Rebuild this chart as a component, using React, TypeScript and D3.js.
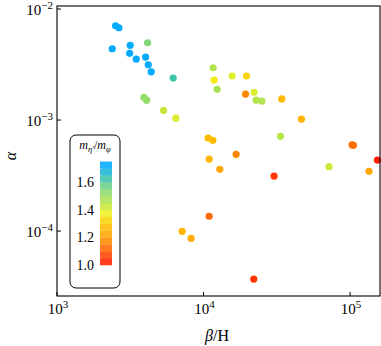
import React, { useEffect, useRef } from 'react';
import * as d3 from 'd3';

// beta/H, alpha and mass ratio for each benchmark point
const betaH = [
  2512, 2646, 2382, 3160, 3130, 3471, 4024, 4193, 4393,
  4150, 3918, 4088, 6206, 5338, 6476,
  11627, 11813, 12378, 15667, 19640, 19336, 22130, 22830, 24970, 34180,
  10750, 11570, 10920, 12910, 16680, 33490, 46560,
  105300, 103200, 153600, 71800, 134600, 30290, 10920, 7150, 8232, 22020,
];
const alpha = [
  7.07e-3, 6.78e-3, 4.39e-3, 4.71e-3, 3.99e-3, 3.54e-3, 3.69e-3, 3.15e-3, 2.72e-3,
  4.97e-3, 1.6e-3, 1.51e-3, 2.39e-3, 1.22e-3, 1.04e-3,
  2.96e-3, 2.29e-3, 1.89e-3, 2.49e-3, 2.49e-3, 1.71e-3, 1.78e-3, 1.51e-3, 1.48e-3, 1.55e-3,
  6.88e-4, 6.56e-4, 4.45e-4, 3.6e-4, 4.91e-4, 7.13e-4, 1.02e-3,
  5.92e-4, 5.98e-4, 4.36e-4, 3.8e-4, 3.45e-4, 3.13e-4, 1.36e-4, 9.94e-5, 8.6e-5, 3.69e-5,
];
const ratio = [
  1.72, 1.72, 1.72, 1.72, 1.72, 1.72, 1.72, 1.72, 1.72,
  1.55, 1.52, 1.52, 1.62, 1.43, 1.4,
  1.46, 1.36, 1.48, 1.39, 1.32, 1.17, 1.4, 1.46, 1.46, 1.27,
  1.27, 1.27, 1.26, 1.23, 1.17, 1.45, 1.25,
  1.12, 1.13, 1.02, 1.42, 1.23, 1.05, 1.12, 1.26, 1.24, 1.05,
];

const xTicks = [3, 4, 5];
const yTicks = [-2, -3, -4];
const cbarTicks = [1.0, 1.2, 1.4, 1.6];

// colormap stops
const cmapStops = [1.0, 1.1, 1.2, 1.3, 1.37, 1.45, 1.55, 1.62, 1.72];
const cmapColors = ['#ff1000', '#ff5a00', '#ff9900', '#ffc800', '#f2f020', '#b8e448', '#82d878', '#40c4a8', '#00aaff'];

const W = 381;
const H = 346;

const App = () => {
  const svgRef = useRef<SVGSVGElement>(null);

  useEffect(() => {
    const svg = d3.select(svgRef.current);
    svg.selectAll('*').remove();

    const left = 57, right = 380, top = 6, bottom = 296;
    const font = '"Liberation Serif", "DejaVu Serif", serif';

    const x = d3.scaleLog().domain([1e3, 1.6e5]).range([left, right]);
    const y = d3.scaleLog().domain([2.6e-5, 1.065e-2]).range([bottom, top]);
    const color = d3.scaleLinear<string>().domain(cmapStops).range(cmapColors).clamp(true);

    // points
    const pts = betaH.map((b, i) => ({ b, a: alpha[i], r: ratio[i] }));
    svg.append('g')
      .selectAll('circle')
      .data(pts)
      .enter()
      .append('circle')
      .attr('cx', d => x(d.b))
      .attr('cy', d => y(d.a))
      .attr('r', 3.6)
      .attr('fill', d => color(d.r));

    // frame
    svg.append('rect')
      .attr('x', left).attr('y', top)
      .attr('width', right - left).attr('height', bottom - top)
      .attr('fill', 'none').attr('stroke', '#000').attr('stroke-width', 1.1);

    // x ticks
    xTicks.forEach(p => {
      const px = x(Math.pow(10, p));
      svg.append('line')
        .attr('x1', px).attr('x2', px).attr('y1', bottom).attr('y2', bottom - 4)
        .attr('stroke', '#000');
      const t = svg.append('text')
        .attr('x', px + 1).attr('y', 314)
        .attr('text-anchor', 'middle')
        .style('font-family', font).style('font-size', '15px');
      t.append('tspan').text('10');
      t.append('tspan').attr('dy', -6).style('font-size', '11px').text(String(p));
    });

    // y ticks
    yTicks.forEach(p => {
      const py = y(Math.pow(10, p));
      svg.append('line')
        .attr('x1', left).attr('x2', left + 4).attr('y1', py).attr('y2', py)
        .attr('stroke', '#000');
      const t = svg.append('text')
        .attr('x', 53).attr('y', py + 6)
        .attr('text-anchor', 'end')
        .style('font-family', font).style('font-size', '15px');
      t.append('tspan').text('10');
      t.append('tspan').attr('dy', -6).style('font-size', '11px').text('\u2212' + String(-p));
    });

    // axis labels
    const xl = svg.append('text')
      .attr('x', 217).attr('y', 341)
      .attr('text-anchor', 'middle')
      .style('font-family', font).style('font-size', '16px');
    xl.append('tspan').style('font-style', 'italic').text('\u03b2');
    xl.append('tspan').text('/H');

    svg.append('text')
      .attr('transform', 'translate(16,156) rotate(-90)')
      .attr('text-anchor', 'middle')
      .style('font-family', font).style('font-size', '16px').style('font-style', 'italic')
      .text('\u03b1');

    // colorbar legend box
    svg.append('rect')
      .attr('x', 70).attr('y', 135).attr('width', 50).attr('height', 153)
      .attr('rx', 6).attr('ry', 6)
      .attr('fill', '#fff').attr('stroke', '#000').attr('stroke-width', 1);

    const title = svg.append('text')
      .attr('x', 95).attr('y', 149)
      .attr('text-anchor', 'middle')
      .style('font-family', font).style('font-size', '12px');
    title.append('tspan').style('font-style', 'italic').text('m');
    title.append('tspan').attr('dy', 2.5).style('font-size', '8.5px').style('font-style', 'italic').text('\u03b7\u2032');
    title.append('tspan').attr('dy', -2.5).text('/');
    title.append('tspan').style('font-style', 'italic').text('m');
    title.append('tspan').attr('dy', 2.5).style('font-size', '8.5px').style('font-style', 'italic').text('\u03c6');

    const cb = d3.scaleLinear().domain([1.0, 1.75]).range([265, 161.5]);
    const bands = d3.range(15).map(i => 1.0 + i * 0.05);
    svg.append('g')
      .selectAll('rect')
      .data(bands)
      .enter()
      .append('rect')
      .attr('x', 100).attr('width', 12)
      .attr('y', d => cb(d + 0.05))
      .attr('height', d => cb(d) - cb(d + 0.05) + 0.3)
      .attr('fill', d => color(d + 0.025))
      .attr('opacity', 0.88);

    bands.slice(1).forEach(v => {
      svg.append('line')
        .attr('x1', 100).attr('x2', 102).attr('y1', cb(v)).attr('y2', cb(v))
        .attr('stroke', '#ffffff').attr('stroke-opacity', 0.5).attr('stroke-width', 0.6);
    });

    cbarTicks.forEach(v => {
      svg.append('text')
        .attr('x', 94).attr('y', cb(v) + 5)
        .attr('text-anchor', 'end')
        .style('font-family', font).style('font-size', '14px')
        .text(v.toFixed(1));
    });
  }, []);

  return (
    <svg ref={svgRef} width={W} height={H}
      style={{ position: 'absolute', left: 0, top: 0, background: '#fff' }} />
  );
};

export default App;
